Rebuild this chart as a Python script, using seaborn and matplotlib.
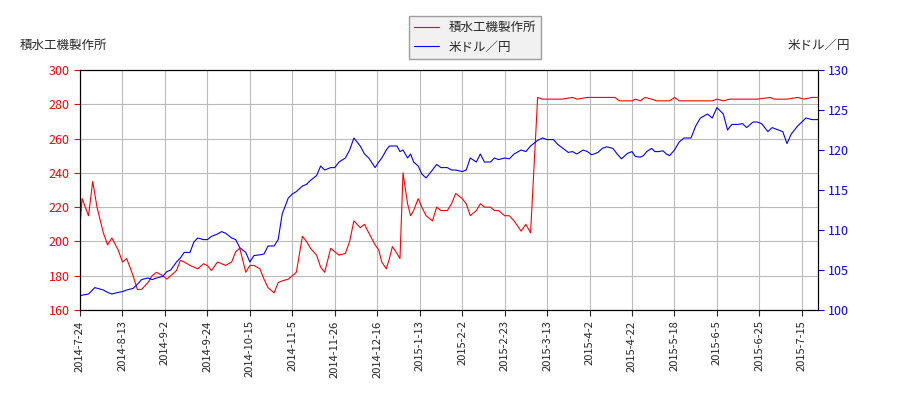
import matplotlib
matplotlib.use("Agg")
import matplotlib.pyplot as plt
import seaborn as sns
import pandas as pd
import numpy as np

company = "積水工機製作所"
fx = "米ドル／円"

tick_labels = ["2014-7-24","2014-8-13","2014-9-2","2014-9-24","2014-10-15","2014-11-5","2014-11-26",
               "2014-12-16","2015-1-13","2015-2-2","2015-2-23","2015-3-13","2015-4-2","2015-4-22",
               "2015-5-18","2015-6-5","2015-6-25","2015-7-15"]

red_points = [
("2014-07-24",210),("2014-07-25",225),("2014-07-28",215),("2014-07-30",235),("2014-08-01",220),
("2014-08-04",205),("2014-08-06",198),("2014-08-08",202),("2014-08-11",195),("2014-08-13",188),
("2014-08-15",190),("2014-08-18",180),("2014-08-20",172),("2014-08-22",172),("2014-08-25",176),
("2014-08-27",180),("2014-08-29",182),("2014-09-01",180),("2014-09-03",178),("2014-09-05",180),
("2014-09-08",183),("2014-09-10",189),("2014-09-12",188),("2014-09-15",186),("2014-09-17",185),
("2014-09-19",184),("2014-09-22",187),("2014-09-24",186),("2014-09-26",183),("2014-09-29",188),
("2014-10-01",187),("2014-10-03",186),("2014-10-06",188),("2014-10-08",194),("2014-10-10",196),
("2014-10-13",182),("2014-10-15",186),("2014-10-17",186),("2014-10-20",184),("2014-10-22",178),
("2014-10-24",173),("2014-10-27",170),("2014-10-29",176),("2014-10-31",177),("2014-11-03",178),
("2014-11-05",180),("2014-11-07",182),("2014-11-10",203),("2014-11-12",200),("2014-11-14",196),
("2014-11-17",192),("2014-11-19",185),("2014-11-21",182),("2014-11-24",196),("2014-11-26",194),
("2014-11-28",192),("2014-12-01",193),("2014-12-03",200),("2014-12-05",212),("2014-12-08",208),
("2014-12-10",210),("2014-12-12",205),("2014-12-15",198),("2014-12-17",195),("2014-12-19",188),
("2014-12-22",184),("2014-12-24",190),("2014-12-26",197),("2014-12-29",193),("2014-12-31",190),
("2015-01-02",240),("2015-01-05",222),("2015-01-07",215),("2015-01-09",218),("2015-01-12",225),
("2015-01-14",220),("2015-01-16",215),("2015-01-19",212),("2015-01-21",220),("2015-01-23",218),
("2015-01-26",218),("2015-01-28",222),("2015-01-30",228),("2015-02-02",225),("2015-02-04",222),
("2015-02-06",215),("2015-02-09",218),("2015-02-11",222),("2015-02-13",220),("2015-02-16",220),
("2015-02-18",218),("2015-02-20",218),("2015-02-23",215),("2015-02-25",215),("2015-02-27",212),
("2015-03-02",206),("2015-03-04",210),("2015-03-06",205),("2015-03-09",284),("2015-03-11",283),
("2015-03-16",283),("2015-03-20",283),("2015-03-25",284),("2015-03-27",283),("2015-04-01",284),
("2015-04-08",284),("2015-04-14",284),("2015-04-16",282),("2015-04-22",282),("2015-04-24",283),
("2015-04-27",282),("2015-04-30",284),("2015-05-04",283),("2015-05-07",282),("2015-05-12",282),
("2015-05-15",282),("2015-05-18",284),("2015-05-20",282),("2015-05-27",282),("2015-06-03",282),
("2015-06-05",283),("2015-06-08",282),("2015-06-11",283),("2015-06-17",283),("2015-06-24",283),
("2015-06-30",284),("2015-07-02",283),("2015-07-08",283),("2015-07-13",284),("2015-07-16",283),
("2015-07-20",284),("2015-07-23",284),
]

blue_points = [
("2014-07-24",101.8),("2014-07-28",102.0),("2014-07-31",102.8),("2014-08-04",102.5),("2014-08-06",102.2),
("2014-08-08",102.0),("2014-08-11",102.2),("2014-08-13",102.3),("2014-08-15",102.5),("2014-08-18",102.7),
("2014-08-20",103.2),("2014-08-22",103.8),("2014-08-25",104.0),("2014-08-27",103.8),("2014-08-29",104.0),
("2014-09-01",104.2),("2014-09-03",104.8),("2014-09-05",105.0),("2014-09-08",106.0),("2014-09-10",106.5),
("2014-09-12",107.2),("2014-09-15",107.2),("2014-09-17",108.5),("2014-09-19",109.0),("2014-09-22",108.8),
("2014-09-24",108.8),("2014-09-26",109.2),("2014-09-29",109.5),("2014-10-01",109.8),("2014-10-03",109.6),
("2014-10-06",109.0),("2014-10-08",108.8),("2014-10-10",107.8),("2014-10-13",107.2),("2014-10-15",106.0),
("2014-10-17",106.8),("2014-10-20",106.9),("2014-10-22",107.0),("2014-10-24",108.0),("2014-10-27",108.0),
("2014-10-29",108.8),("2014-10-31",112.0),("2014-11-03",114.0),("2014-11-05",114.5),("2014-11-07",114.8),
("2014-11-10",115.5),("2014-11-12",115.7),("2014-11-14",116.2),("2014-11-17",116.8),("2014-11-19",118.0),
("2014-11-21",117.5),("2014-11-24",117.8),("2014-11-26",117.8),("2014-11-28",118.5),("2014-12-01",119.0),
("2014-12-03",120.0),("2014-12-05",121.5),("2014-12-08",120.5),("2014-12-10",119.5),("2014-12-12",119.0),
("2014-12-15",117.8),("2014-12-17",118.5),("2014-12-19",119.0),("2014-12-22",120.0),("2014-12-24",120.5),
("2014-12-26",120.5),("2014-12-29",120.5),("2014-12-31",119.8),("2015-01-02",120.0),("2015-01-05",119.0),
("2015-01-07",119.5),("2015-01-09",118.5),("2015-01-12",118.0),("2015-01-14",117.0),("2015-01-16",116.5),
("2015-01-19",117.5),("2015-01-21",118.2),("2015-01-23",117.8),("2015-01-26",117.8),("2015-01-28",117.5),
("2015-01-30",117.5),("2015-02-02",117.3),("2015-02-04",117.5),("2015-02-06",119.0),("2015-02-09",118.5),
("2015-02-11",119.5),("2015-02-13",118.5),("2015-02-16",118.5),("2015-02-18",119.0),("2015-02-20",118.8),
("2015-02-23",119.0),("2015-02-25",118.9),("2015-02-27",119.5),("2015-03-02",120.0),("2015-03-04",119.8),
("2015-03-06",120.5),("2015-03-09",121.2),("2015-03-11",121.5),("2015-03-13",121.3),("2015-03-16",121.3),
("2015-03-18",120.7),("2015-03-20",120.3),("2015-03-23",119.7),("2015-03-25",119.8),("2015-03-27",119.5),
("2015-03-30",120.0),("2015-04-01",119.8),("2015-04-03",119.4),("2015-04-06",119.7),("2015-04-08",120.2),
("2015-04-10",120.4),("2015-04-13",120.2),("2015-04-15",119.5),("2015-04-17",118.9),("2015-04-20",119.6),
("2015-04-22",119.8),("2015-04-24",119.2),("2015-04-27",119.1),("2015-04-29",119.3),("2015-05-01",119.8),
("2015-05-04",120.2),("2015-05-06",119.8),("2015-05-08",119.8),("2015-05-11",119.9),("2015-05-13",119.5),
("2015-05-15",119.3),("2015-05-18",120.0),("2015-05-20",121.0),("2015-05-22",121.5),("2015-05-25",121.5),
("2015-05-27",123.0),("2015-05-29",124.0),("2015-06-01",124.5),("2015-06-03",124.0),("2015-06-05",125.3),
("2015-06-08",124.5),("2015-06-10",122.5),("2015-06-12",123.2),("2015-06-15",123.2),("2015-06-17",123.3),
("2015-06-19",122.8),("2015-06-22",123.5),("2015-06-24",123.5),("2015-06-26",123.3),("2015-06-29",122.3),
("2015-07-01",122.8),("2015-07-03",122.6),("2015-07-06",122.3),("2015-07-08",120.8),("2015-07-10",122.0),
("2015-07-13",123.0),("2015-07-15",123.5),("2015-07-17",124.0),("2015-07-20",123.8),("2015-07-23",123.8),
]

# trading-day style axis: tick dates are equally spaced
anchor_dates = pd.to_datetime(tick_labels + ["2015-07-23"], format="%Y-%m-%d")
anchor_pos = list(range(len(tick_labels))) + [len(tick_labels) - 1 + 0.38]
anchor_num = anchor_dates.values.astype("datetime64[D]").astype(float)

def to_pos(s):
    d = pd.to_datetime(s).values.astype("datetime64[D]").astype(float)
    return np.interp(d, anchor_num, anchor_pos)

red = pd.DataFrame(red_points, columns=["date", "v"]); red["x"] = to_pos(red["date"])
blue = pd.DataFrame(blue_points, columns=["date", "v"]); blue["x"] = to_pos(blue["date"])

sns.set_style("white")
plt.rcParams['font.family'] = ['Noto Sans CJK JP', 'DejaVu Sans']

fig = plt.figure(figsize=(9, 4), dpi=100)
ax = fig.add_axes([80/900, 90/400, 738/900, 240/400])
ax2 = ax.twinx()
sns.lineplot(data=red, x="x", y="v", ax=ax, color="red", lw=0.8, label=company, legend=False)
sns.lineplot(data=blue, x="x", y="v", ax=ax2, color="blue", lw=0.8, label=fx, legend=False)

ax.set_xticks(range(len(tick_labels)))
ax.set_xticklabels(tick_labels, rotation=90, fontsize=8)
ax.set_xlim(0, anchor_pos[-1])
ax.set_ylim(160, 300); ax.set_yticks(range(160, 301, 20))
ax2.set_ylim(100, 130); ax2.set_yticks(range(100, 131, 5))
ax.tick_params(axis='y', colors='red', labelsize=9, length=4, left=True)
ax2.tick_params(axis='y', colors='blue', labelsize=9, length=4, right=True)
ax.tick_params(axis='x', length=4, bottom=True, labelsize=8)
ax.grid(True, color="#bbbbbb", lw=0.8)
ax.set_xlabel(""); ax.set_ylabel(""); ax2.set_ylabel("")
for a in (ax, ax2):
    for s in a.spines.values():
        s.set_color("black"); s.set_linewidth(0.8)

fig.text(20/900, 1-45/400, company, fontsize=9, va="center")
fig.text(850/900, 1-45/400, fx, fontsize=9, va="center", ha="right")
h1, l1 = ax.get_legend_handles_labels(); h2, l2 = ax2.get_legend_handles_labels()
fig.legend(h1+h2, l1+l2, loc="upper center", bbox_to_anchor=(475/900, 1-10/400),
           fontsize=9, frameon=True, fancybox=False, edgecolor="#888888", facecolor="#eeeeee")
fig.savefig("out.png")
